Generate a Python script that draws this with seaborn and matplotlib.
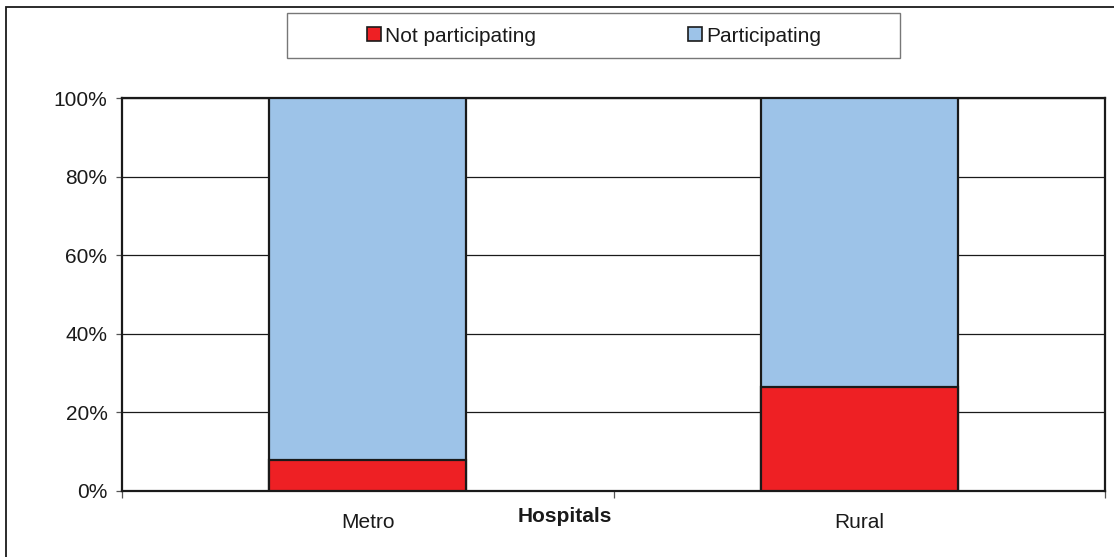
import matplotlib
matplotlib.use("Agg")
import matplotlib.pyplot as plt
from matplotlib.patches import Rectangle, Patch
from matplotlib.ticker import FixedLocator, PercentFormatter
import seaborn as sns
import pandas as pd

# Share of hospitals by participation status (percent)
categories = ["Metro", "Rural"]
not_participating = [7.9, 26.4]
participating = [92.1, 73.6]
y_ticks = [0, 20, 40, 60, 80, 100]

RED = "#EE2024"
BLUE = "#9DC3E8"
INK = "#1a1a1a"

sns.set_theme(style="white")
plt.rcParams["font.family"] = ["Liberation Sans", "DejaVu Sans"]

W, H = 1114, 557
fig = plt.figure(figsize=(W / 100, H / 100), dpi=100)
fig.patch.set_facecolor("white")


def fx(px):
    return px / W


def fy(py):
    return 1 - py / H


ax = fig.add_axes([fx(122), fy(491), fx(1105) - fx(122), fy(98) - fy(491)])

df = pd.DataFrame({
    "group": categories,
    "not_participating": not_participating,
    "participating": participating,
})
df["top"] = df["not_participating"] + df["participating"]

# stacked bars: full stack first, then the lower segment on top of it
sns.barplot(data=df, x="group", y="top", color=BLUE, width=0.4, saturation=1,
            edgecolor=INK, linewidth=1.6, ax=ax, zorder=3)
sns.barplot(data=df, x="group", y="not_participating", color=RED, width=0.4,
            saturation=1, edgecolor=INK, linewidth=1.6, ax=ax, zorder=4)

ax.set_xlim(-0.5, 1.5)
ax.set_ylim(0, 100)
ax.set_xlabel("")
ax.set_ylabel("")

ax.yaxis.set_major_locator(FixedLocator(y_ticks))
ax.yaxis.set_major_formatter(PercentFormatter(decimals=0))
ax.yaxis.grid(True, color=INK, linewidth=0.9, zorder=1)
ax.set_axisbelow(True)

ax.tick_params(axis="y", which="major", direction="out", length=4.5, width=0.9,
               color="#555555", pad=6, labelsize=15, labelcolor=INK, left=True)
ax.set_xticks([0, 1])
ax.set_xticklabels(categories)
ax.tick_params(axis="x", which="major", length=0, pad=16, labelsize=15,
               labelcolor=INK)
ax.set_xticks([-0.5, 0.5, 1.5], minor=True)
ax.tick_params(axis="x", which="minor", direction="out", length=5, width=0.9,
               color="#555555", bottom=True)

for s in ax.spines.values():
    s.set_visible(True)
    s.set_color(INK)
    s.set_linewidth(1.6)

fig.text(fx(565), fy(517), "Hospitals", ha="center", va="center",
         fontsize=15, fontweight="bold", color=INK)

# legend box
fig.patches.append(Rectangle((fx(287), fy(58)), fx(900) - fx(287), fy(13) - fy(58),
                             transform=fig.transFigure, facecolor="white",
                             edgecolor="#777777", linewidth=1.0))
handles = [Patch(facecolor=RED, edgecolor=INK, linewidth=1.2),
           Patch(facecolor=BLUE, edgecolor=INK, linewidth=1.2)]
fig.legend(handles, ["Not participating", "Participating"], ncol=2,
           loc="center", bbox_to_anchor=(fx(594), fy(36)), frameon=False,
           fontsize=15, handlelength=0.65, handleheight=0.65, handletextpad=0.2,
           columnspacing=7.3, labelcolor=INK)

# outer frame
fig.patches.append(Rectangle((fx(6), fy(600)), fx(1200) - fx(6), fy(7) - fy(600),
                             transform=fig.transFigure, facecolor="none",
                             edgecolor=INK, linewidth=1.3))

fig.savefig("out.png", dpi=100)
